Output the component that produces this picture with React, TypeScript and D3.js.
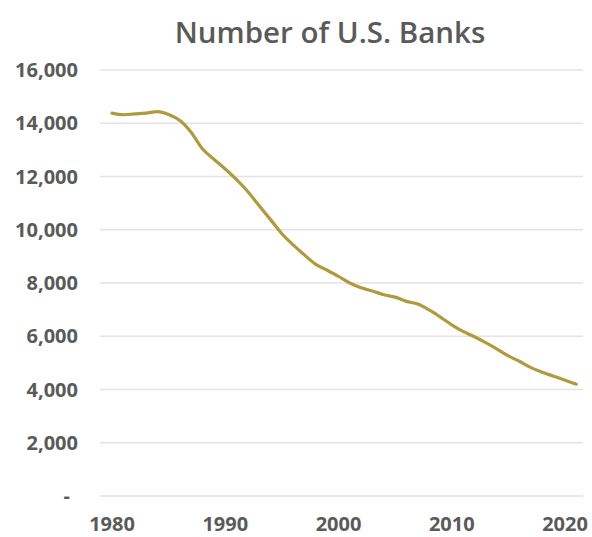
import React from "react";
import * as d3 from "d3";

const years: number[] = [
  1980, 1981, 1982, 1983, 1984, 1985, 1986, 1987, 1988, 1989,
  1990, 1991, 1992, 1993, 1994, 1995, 1996, 1997, 1998, 1999,
  2000, 2001, 2002, 2003, 2004, 2005, 2006, 2007, 2008, 2009,
  2010, 2011, 2012, 2013, 2014, 2015, 2016, 2017, 2018, 2019,
  2020, 2021,
];
const banks: number[] = [
  14380, 14320, 14350, 14380, 14440, 14330, 14100, 13650, 13030, 12650,
  12280, 11880, 11430, 10900, 10380, 9850, 9430, 9050, 8700, 8480,
  8250, 8000, 7820, 7700, 7560, 7470, 7310, 7210, 6990, 6720,
  6430, 6180, 5980, 5760, 5520, 5260, 5050, 4820, 4650, 4500,
  4350, 4200,
];
const yTicks: number[] = [0, 2000, 4000, 6000, 8000, 10000, 12000, 14000, 16000];
const xTicks: number[] = [1980, 1990, 2000, 2010, 2020];
const title = "Number of U.S. Banks";

const W = 592;
const H = 537;

export default function App() {
  const x = d3.scaleLinear().domain([1980, 2020]).range([112, 565]);
  const y = d3.scaleLinear().domain([0, 16000]).range([496, 70]);
  const fmt = d3.format(",");
  const line = d3
    .line<number>()
    .x((_, i) => x(years[i]))
    .y((d) => y(d))
    .curve(d3.curveMonotoneX);
  const font = "'Open Sans', 'Liberation Sans', sans-serif";
  const gray = "#5a5a5a";

  return (
    <svg
      width={W}
      height={H}
      style={{ position: "absolute", left: 0, top: 0, background: "#fff" }}
    >
      <text
        x={330}
        y={43}
        textAnchor="middle"
        fontFamily={font}
        fontWeight={600}
        fontSize={29.5}
        fill={gray}
      >
        {title}
      </text>
      {yTicks.map((t) => (
        <g key={t}>
          <line
            x1={100}
            x2={583}
            y1={y(t)}
            y2={y(t)}
            stroke="#e3e3e3"
            strokeWidth={1.5}
          />
          <text
            x={t === 0 ? 70 : 78}
            y={y(t)}
            dy="0.36em"
            textAnchor="end"
            fontFamily={font}
            fontWeight={700}
            fontSize={20}
            fill={gray}
          >
            {t === 0 ? "-" : fmt(t)}
          </text>
        </g>
      ))}
      {xTicks.map((t) => (
        <text
          key={t}
          x={x(t)}
          y={531}
          textAnchor="middle"
          fontFamily={font}
          fontWeight={700}
          fontSize={20}
          fill={gray}
        >
          {t}
        </text>
      ))}
      <path
        d={line(banks) || ""}
        fill="none"
        stroke="#b09a3c"
        strokeWidth={3.2}
        strokeLinejoin="round"
        strokeLinecap="round"
      />
    </svg>
  );
}
